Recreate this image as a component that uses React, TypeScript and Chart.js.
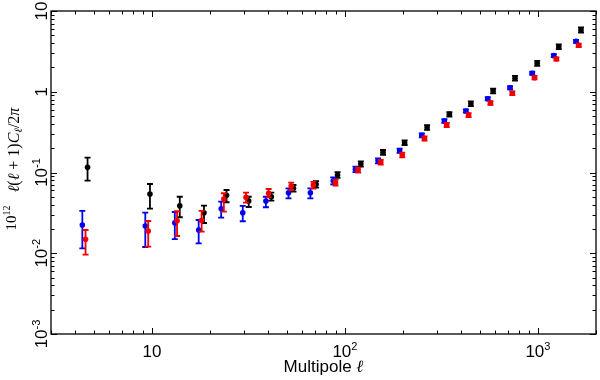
import React, { useEffect, useRef } from "react";
import { Chart, registerables } from "chart.js";

Chart.register(...registerables);

// ---- data ----
const blackL = [4.64, 9.77, 13.94, 18.61, 24.36, 31.73, 41.56, 54.14, 70.88, 91.6, 120.9, 157.6, 203.9, 266.6, 347.7, 449.4, 586.1, 761, 991.7, 1283, 1672];
const blackV = [0.116, 0.0542, 0.0388, 0.0318, 0.0522, 0.0444, 0.0501, 0.0637, 0.0714, 0.0931, 0.1274, 0.178, 0.234, 0.361, 0.526, 0.711, 1.02, 1.468, 2.25, 3.61, 5.82];
const blackHi = [0.1525, 0.072, 0.0501, 0.0388, 0.0607, 0.0501, 0.0562, 0.07, 0.078, 0.101, 0.137, 0.19, 0.25, 0.385, 0.56, 0.76, 1.09, 1.57, 2.41, 3.86, 6.25];
const blackLo = [0.0792, 0.0356, 0.0279, 0.0237, 0.0428, 0.0374, 0.0448, 0.058, 0.065, 0.086, 0.118, 0.166, 0.219, 0.338, 0.494, 0.665, 0.955, 1.37, 2.1, 3.37, 5.42];

const blueL = [4.36, 9.24, 13.14, 17.47, 22.85, 29.56, 38.96, 51.03, 66.24, 87.0, 113.4, 148.5, 192.1, 250.3, 327.7, 423.6, 549.8, 717.3, 934.6, 1209, 1576];
const blueV = [0.02237, 0.02175, 0.0239, 0.0194, 0.0356, 0.0318, 0.0444, 0.0562, 0.0562, 0.0792, 0.1095, 0.14, 0.186, 0.289, 0.434, 0.577, 0.82, 1.122, 1.693, 2.8, 4.21];
const blueHi = [0.0334, 0.0318, 0.0324, 0.0258, 0.0435, 0.0385, 0.0501, 0.0637, 0.0637, 0.0872, 0.118, 0.15, 0.198, 0.305, 0.457, 0.605, 0.86, 1.175, 1.77, 2.92, 4.39];
const blueLo = [0.01151, 0.01195, 0.015, 0.01328, 0.0276, 0.0249, 0.0371, 0.0479, 0.0479, 0.0714, 0.101, 0.13, 0.175, 0.273, 0.412, 0.55, 0.782, 1.07, 1.62, 2.68, 4.04];

const redL = [4.53, 9.57, 13.5, 18.1, 23.59, 30.73, 40.25, 52.69, 68.65, 89.4, 117.1, 153.3, 198.2, 258.5, 336.8, 437.3, 567.7, 737.0, 960.5, 1247, 1627];
const redV = [0.01489, 0.01887, 0.0253, 0.0256, 0.047, 0.0493, 0.0553, 0.0681, 0.0701, 0.0748, 0.1074, 0.1337, 0.1647, 0.2637, 0.3875, 0.515, 0.726, 0.957, 1.493, 2.546, 3.76];
const redHi = [0.0194, 0.0251, 0.0331, 0.0334, 0.0553, 0.0562, 0.0625, 0.0748, 0.0765, 0.081, 0.115, 0.143, 0.176, 0.28, 0.41, 0.545, 0.765, 1.01, 1.57, 2.67, 3.95];
const redLo = [0.0096, 0.01205, 0.01636, 0.01849, 0.0327, 0.0423, 0.0493, 0.0607, 0.063, 0.069, 0.1, 0.125, 0.154, 0.248, 0.366, 0.487, 0.69, 0.91, 1.42, 2.43, 3.58];

const xTickValues = [10, 100, 1000];
const xTickBase = ["10", "10", "10"];
const xTickExp = ["", "2", "3"];
const yTickValues = [10, 1, 0.1, 0.01, 0.001];
const yTickBase = ["10", "1", "10", "10", "10"];
const yTickExp = ["", "", "-1", "-2", "-3"];

const X_MIN = 3;
const X_MAX = 2000;
const Y_MIN = 0.001;
const Y_MAX = 10;

const SANS = '"Liberation Sans", Arial, sans-serif';
const SERIF = '"Liberation Serif", "DejaVu Serif", serif';

function makeSet(label: string, color: string, L: number[], V: number[], lo: number[], hi: number[]) {
  return {
    label,
    data: L.map((x, i) => ({ x, y: V[i] })),
    errLo: lo,
    errHi: hi,
    backgroundColor: color,
    borderColor: color,
    pointBackgroundColor: color,
    pointBorderColor: color,
    pointBorderWidth: 0,
    pointRadius: 2.8,
    showLine: false,
  } as any;
}

const errorBarPlugin = {
  id: "errorBars",
  beforeDatasetDraw(chart: any, args: any) {
    const ds: any = chart.data.datasets[args.index];
    const xs = chart.scales.x;
    const ys = chart.scales.y;
    const ctx = chart.ctx;
    ctx.save();
    ctx.strokeStyle = ds.borderColor;
    ctx.lineWidth = 1.8;
    ds.data.forEach((p: any, i: number) => {
      const px = xs.getPixelForValue(p.x);
      const top = ys.getPixelForValue(ds.errHi[i]);
      const bot = ys.getPixelForValue(ds.errLo[i]);
      ctx.beginPath();
      ctx.moveTo(px, top);
      ctx.lineTo(px, bot);
      ctx.moveTo(px - 3, top);
      ctx.lineTo(px + 3, top);
      ctx.moveTo(px - 3, bot);
      ctx.lineTo(px + 3, bot);
      ctx.stroke();
    });
    ctx.restore();
  },
};

function logTicks(min: number, max: number) {
  const out: { v: number; major: boolean }[] = [];
  for (let e = Math.floor(Math.log10(min)); e <= Math.ceil(Math.log10(max)); e++) {
    for (let m = 1; m <= 9; m++) {
      const v = m * Math.pow(10, e);
      if (v >= min * 0.9999 && v <= max * 1.0001) out.push({ v, major: m === 1 });
    }
  }
  return out;
}

const axesPlugin = {
  id: "axesFrame",
  afterDraw(chart: any) {
    const { ctx, chartArea: a } = chart;
    const xs = chart.scales.x;
    const ys = chart.scales.y;
    ctx.save();
    ctx.strokeStyle = "#000";
    ctx.lineWidth = 1.3;
    ctx.strokeRect(a.left, a.top, a.right - a.left, a.bottom - a.top);

    ctx.lineWidth = 1;
    ctx.beginPath();
    logTicks(X_MIN, X_MAX).forEach((t) => {
      const px = Math.round(xs.getPixelForValue(t.v)) + 0.5;
      const len = t.major ? 6 : 3.5;
      ctx.moveTo(px, a.bottom);
      ctx.lineTo(px, a.bottom - len);
      ctx.moveTo(px, a.top);
      ctx.lineTo(px, a.top + len);
    });
    logTicks(Y_MIN, Y_MAX).forEach((t) => {
      const py = Math.round(ys.getPixelForValue(t.v)) + 0.5;
      const len = t.major ? 6 : 3.5;
      ctx.moveTo(a.left, py);
      ctx.lineTo(a.left + len, py);
      ctx.moveTo(a.right, py);
      ctx.lineTo(a.right - len, py);
    });
    ctx.stroke();

    ctx.fillStyle = "#000";
    ctx.textBaseline = "alphabetic";
    ctx.textAlign = "left";
    const baseFont = `17px ${SANS}`;
    const supFont = `11px ${SANS}`;

    // x tick labels
    xTickValues.forEach((v, i) => {
      const px = xs.getPixelForValue(v);
      ctx.font = baseFont;
      const w1 = ctx.measureText(xTickBase[i]).width;
      ctx.font = supFont;
      const w2 = xTickExp[i] ? ctx.measureText(xTickExp[i]).width : 0;
      const start = px - (w1 + w2) / 2;
      ctx.font = baseFont;
      ctx.fillText(xTickBase[i], start, 357);
      if (xTickExp[i]) {
        ctx.font = supFont;
        ctx.fillText(xTickExp[i], start + w1, 350);
      }
    });

    // y tick labels (rotated)
    yTickValues.forEach((v, i) => {
      const py = ys.getPixelForValue(v);
      ctx.save();
      ctx.translate(47, py);
      ctx.rotate(-Math.PI / 2);
      ctx.font = baseFont;
      const w1 = ctx.measureText(yTickBase[i]).width;
      ctx.font = supFont;
      const w2 = yTickExp[i] ? ctx.measureText(yTickExp[i]).width : 0;
      const start = -(w1 + w2) / 2;
      ctx.font = baseFont;
      ctx.fillText(yTickBase[i], start, 0);
      if (yTickExp[i]) {
        ctx.font = supFont;
        ctx.fillText(yTickExp[i], start + w1, -7);
      }
      ctx.restore();
    });

    // x title
    ctx.font = `17px ${SANS}`;
    const t1 = "Multipole ";
    ctx.font = `17px ${SANS}`;
    const wT1 = ctx.measureText(t1).width;
    ctx.font = `italic 17px ${SERIF}`;
    const wT2 = ctx.measureText("ℓ").width;
    const cx = (a.left + a.right) / 2;
    const sx = cx - (wT1 + wT2) / 2;
    ctx.font = `17px ${SANS}`;
    ctx.fillText(t1, sx, 372);
    ctx.font = `italic 17px ${SERIF}`;
    ctx.fillText("ℓ", sx + wT1, 372);

    // y title (rotated), composed of runs
    const it = `italic 16px ${SERIF}`;
    const rm = `16px ${SERIF}`;
    const sub = `italic 11px ${SERIF}`;
    const runs: { t: string; f: string; dy: number }[] = [
      { t: "ℓ", f: it, dy: 0 },
      { t: "(", f: rm, dy: 0 },
      { t: "ℓ", f: it, dy: 0 },
      { t: " + ", f: rm, dy: 0 },
      { t: "1", f: rm, dy: 0 },
      { t: ")", f: rm, dy: 0 },
      { t: "C", f: it, dy: 0 },
      { t: "ℓ", f: sub, dy: 3 },
      { t: "/2", f: rm, dy: 0 },
      { t: "π", f: it, dy: 0 },
    ];
    let total = 0;
    runs.forEach((r) => {
      ctx.font = r.f;
      total += ctx.measureText(r.t).width;
    });
    ctx.save();
    ctx.translate(19, 150);
    ctx.rotate(-Math.PI / 2);
    let pos = -total / 2;
    runs.forEach((r) => {
      ctx.font = r.f;
      ctx.fillText(r.t, pos, r.dy);
      pos += ctx.measureText(r.t).width;
    });
    ctx.restore();

    // 10^12 factor
    ctx.save();
    ctx.translate(16, 218);
    ctx.rotate(-Math.PI / 2);
    ctx.font = `15px ${SERIF}`;
    const wa = ctx.measureText("10").width;
    ctx.font = `10px ${SERIF}`;
    const wb = ctx.measureText("12").width;
    const s0 = -(wa + wb) / 2;
    ctx.font = `15px ${SERIF}`;
    ctx.fillText("10", s0, 0);
    ctx.font = `10px ${SERIF}`;
    ctx.fillText("12", s0 + wa, -6);
    ctx.restore();

    ctx.restore();
  },
};

export default function App() {
  const ref = useRef<HTMLCanvasElement | null>(null);
  useEffect(() => {
    if (!ref.current) return;
    const chart = new Chart(ref.current, {
      type: "scatter",
      data: {
        datasets: [
          makeSet("red", "#f00000", redL, redV, redLo, redHi),
          makeSet("blue", "#0000f0", blueL, blueV, blueLo, blueHi),
          makeSet("black", "#000000", blackL, blackV, blackLo, blackHi),
        ],
      },
      options: {
        animation: false,
        responsive: false,
        maintainAspectRatio: false,
        layout: { padding: { left: 51, top: 11, right: 2, bottom: 46 } },
        scales: {
          x: { type: "logarithmic", min: X_MIN, max: X_MAX, display: false },
          y: { type: "logarithmic", min: Y_MIN, max: Y_MAX, display: false },
        },
        plugins: { legend: { display: false }, tooltip: { enabled: false } },
      } as any,
      plugins: [errorBarPlugin, axesPlugin],
    });
    return () => chart.destroy();
  }, []);
  return (
    <div style={{ position: "absolute", left: 0, top: 0, width: 600, height: 380, background: "#fff" }}>
      <canvas ref={ref} width={600} height={380} style={{ width: 600, height: 380, display: "block" }} />
    </div>
  );
}
